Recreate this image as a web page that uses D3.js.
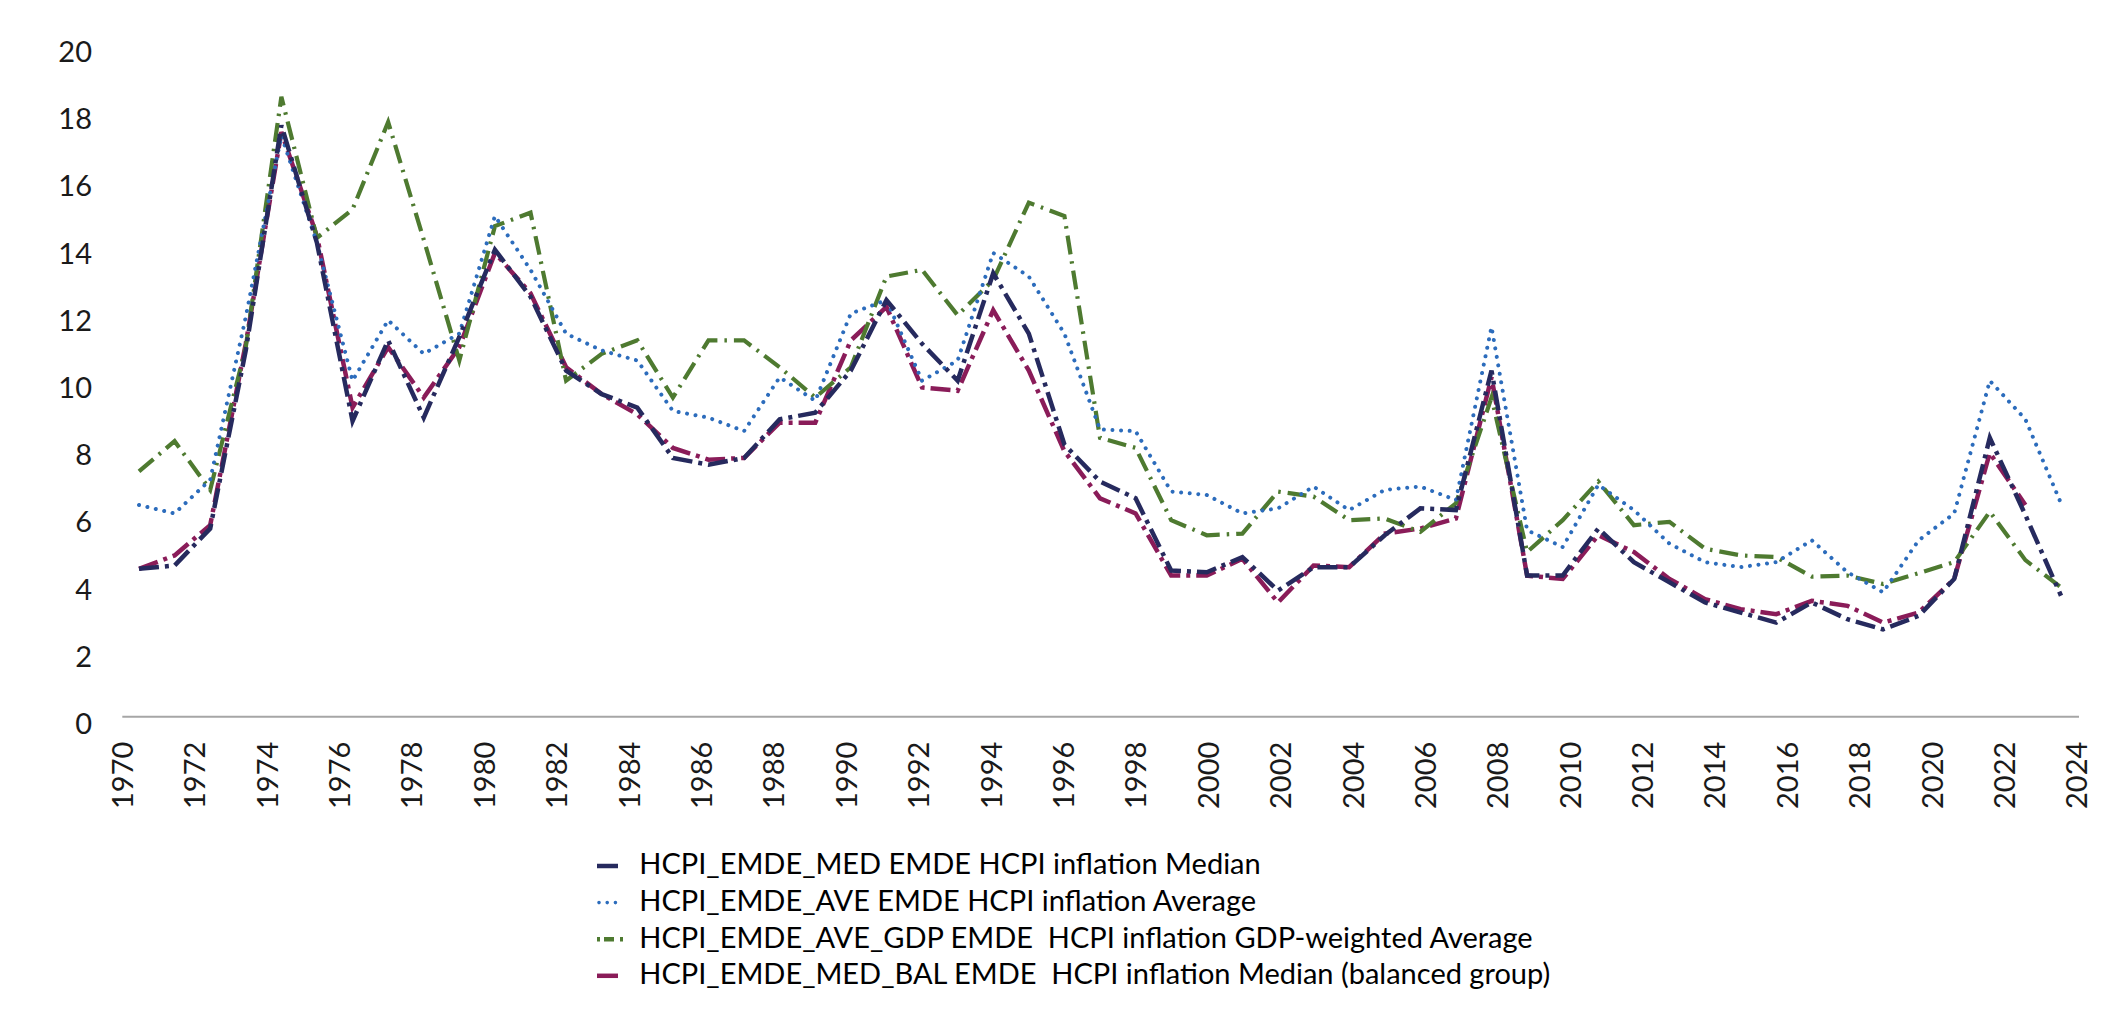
<!DOCTYPE html>
<html>
<head>
<meta charset="utf-8">
<script src="https://cdn.jsdelivr.net/npm/d3@7"></script>
<style>
  html, body { margin: 0; padding: 0; background: #fff; }
  svg { display: block; font-family: Lato, "Open Sans", sans-serif; }
</style>
</head>
<body>
<svg id="chart" width="2126" height="1016"></svg>
<script>
// categories
var years = [1970, 1971, 1972, 1973, 1974, 1975, 1976, 1977, 1978, 1979,
             1980, 1981, 1982, 1983, 1984, 1985, 1986, 1987, 1988, 1989,
             1990, 1991, 1992, 1993, 1994, 1995, 1996, 1997, 1998, 1999,
             2000, 2001, 2002, 2003, 2004, 2005, 2006, 2007, 2008, 2009,
             2010, 2011, 2012, 2013, 2014, 2015, 2016, 2017, 2018, 2019,
             2020, 2021, 2022, 2023, 2024];

// series values
var medianVals = [4.4, 4.5, 5.6, 10.9, 17.6, 14.1, 8.8, 11.2, 8.9, 11.3,
                  13.9, 12.5, 10.3, 9.6, 9.2, 7.7, 7.5, 7.7, 8.85, 9.05,
                  10.3, 12.4, 11.1, 10.0, 13.2, 11.4, 8.1, 7.0, 6.5, 4.35,
                  4.3, 4.75, 3.75, 4.45, 4.45, 5.4, 6.2, 6.15, 10.3, 4.2,
                  4.2, 5.6, 4.6, 4.0, 3.4, 3.1, 2.8, 3.4, 2.9, 2.6,
                  3.0, 4.1, 8.3, 6.0, 3.6];
var averageVals = [6.3, 6.05, 7.05, 11.9, 17.3, 14.1, 10.0, 11.8, 10.8, 11.4,
                   14.9, 13.3, 11.4, 10.9, 10.6, 9.1, 8.9, 8.5, 10.1, 9.4,
                   12.0, 12.4, 10.0, 10.6, 13.8, 13.1, 11.4, 8.55, 8.5, 6.7,
                   6.6, 6.05, 6.2, 6.85, 6.15, 6.75, 6.85, 6.45, 11.6, 5.55,
                   5.05, 6.9, 6.15, 5.15, 4.6, 4.45, 4.6, 5.25, 4.3, 3.7,
                   5.25, 6.05, 10.0, 8.85, 6.35];
var gdpVals = [7.3, 8.2, 6.75, 11.0, 18.45, 14.25, 15.1, 17.7, 14.2, 10.6,
               14.6, 15.0, 10.0, 10.8, 11.2, 9.5, 11.2, 11.2, 10.4, 9.5,
               10.4, 13.1, 13.3, 11.95, 13.0, 15.3, 14.9, 8.3, 8.0, 5.85,
               5.4, 5.45, 6.7, 6.55, 5.85, 5.9, 5.5, 6.35, 9.5, 4.9,
               5.85, 7.0, 5.7, 5.8, 5.0, 4.8, 4.75, 4.17, 4.2, 3.95,
               4.27, 4.6, 6.1, 4.66, 3.85];
var balancedVals = [4.4, 4.8, 5.7, 11.1, 17.4, 14.3, 9.2, 11.0, 9.5, 11.0,
                    13.8, 12.6, 10.4, 9.6, 9.0, 8.0, 7.65, 7.7, 8.75, 8.75,
                    11.2, 12.2, 9.8, 9.7, 12.1, 10.3, 7.9, 6.5, 6.05, 4.2,
                    4.2, 4.7, 3.4, 4.5, 4.45, 5.45, 5.6, 5.9, 10.1, 4.2,
                    4.1, 5.4, 4.9, 4.1, 3.5, 3.2, 3.05, 3.45, 3.3, 2.8,
                    3.1, 4.1, 7.85, 6.3, null];

// tick labels
var yTicks = [0, 2, 4, 6, 8, 10, 12, 14, 16, 18, 20];
var xTicks = [1970, 1972, 1974, 1976, 1978, 1980, 1982, 1984, 1986, 1988,
              1990, 1992, 1994, 1996, 1998, 2000, 2002, 2004, 2006, 2008,
              2010, 2012, 2014, 2016, 2018, 2020, 2022, 2024];

var legendLabels = [
  "HCPI_EMDE_MED EMDE HCPI inflation Median",
  "HCPI_EMDE_AVE EMDE HCPI inflation Average",
  "HCPI_EMDE_AVE_GDP EMDE  HCPI inflation GDP-weighted Average",
  "HCPI_EMDE_MED_BAL EMDE  HCPI inflation Median (balanced group)"
];

var series = [
  { name: legendLabels[0], values: medianVals,   color: "#262a5e", width: 4.5, dash: "20 6 4 6",  cap: "butt",  legendDash: null },
  { name: legendLabels[1], values: averageVals,  color: "#2c6cbc", width: 4,   dash: "0.01 8.6", cap: "round", legendDash: "0.01 8.2" },
  { name: legendLabels[2], values: gdpVals,      color: "#4e7a30", width: 4.2, dash: "19 7 2.5 7", cap: "butt", legendDash: "3 4 10 6 3" },
  { name: legendLabels[3], values: balancedVals, color: "#8a1c59", width: 4.5, dash: "20 6 4 6",  cap: "butt",  legendDash: null }
];

var svg = d3.select("#chart");
var fontSize = 29;

var y = d3.scaleLinear().domain([0, 20]).range([716.7, 44.7]);
// labels sit on a slightly wider span than the plotted points
var xAxisScale = d3.scaleLinear().domain([1970, 2024]).range([122.3, 2076.7]);
var xData = d3.scaleLinear().domain([1970, 2024]).range([139, 2061]);

// y axis labels
var yAxis = svg.append("g")
    .attr("transform", "translate(92,7.5)")
    .call(d3.axisLeft(y).tickValues(yTicks).tickSize(0).tickPadding(0));
yAxis.select(".domain").remove();
yAxis.selectAll("text")
    .attr("fill", "#1a1a1a")
    .style("font-size", fontSize + "px")
    .style("font-family", "Lato, 'Open Sans', sans-serif");

// x axis baseline
svg.append("line")
    .attr("x1", xAxisScale(1970))
    .attr("x2", xAxisScale(2024) + 2.3)
    .attr("y1", y(0))
    .attr("y2", y(0))
    .attr("stroke", "#a6a6a6")
    .attr("stroke-width", 2);

var xAxis = svg.append("g")
    .attr("transform", "translate(0," + y(0) + ")")
    .call(d3.axisBottom(xAxisScale).tickValues(xTicks).tickSize(0).tickFormat(d3.format("d")));
xAxis.select(".domain").remove();
xAxis.selectAll("text")
    .attr("transform", "rotate(-90)")
    .attr("text-anchor", "end")
    .attr("x", -25)
    .attr("y", 0)
    .attr("dy", "0.35em")
    .attr("fill", "#1a1a1a")
    .style("font-size", fontSize + "px")
    .style("font-family", "Lato, 'Open Sans', sans-serif");

// lines: draw balanced first so the median sits on top
var line = d3.line()
    .defined(function(d) { return d.v !== null; })
    .x(function(d) { return xData(d.year); })
    .y(function(d) { return y(d.v); });

var drawOrder = [3, 2, 1, 0];
drawOrder.forEach(function(k) {
  var s = series[k];
  var pts = years.map(function(yr, i) { return { year: yr, v: s.values[i] }; });
  svg.append("path")
      .datum(pts)
      .attr("fill", "none")
      .attr("stroke", s.color)
      .attr("stroke-width", s.width)
      .attr("stroke-dasharray", s.dash)
      .attr("stroke-linecap", s.cap)
      .attr("stroke-linejoin", "miter")
      .attr("d", line);
});

// legend
var legend = svg.append("g").attr("transform", "translate(597,866)");
series.forEach(function(s, i) {
  var row = legend.append("g").attr("transform", "translate(0," + (i * 36.6) + ")");
  var sw = row.append("line")
      .attr("x1", s.cap === "round" ? 2 : 0)
      .attr("x2", s.legendDash && s.cap !== "round" ? 27 : 21)
      .attr("y1", 0).attr("y2", 0)
      .attr("stroke", s.color)
      .attr("stroke-width", s.cap === "round" ? 3.6 : 4.5)
      .attr("stroke-linecap", s.cap);
  if (s.legendDash) sw.attr("stroke-dasharray", s.legendDash);
  row.append("text")
      .attr("x", 42.3)
      .attr("y", 8.3)
      .attr("fill", "#000")
      .style("font-size", fontSize + "px")
      .style("white-space", "pre")
      .text(s.name);
});
</script>
</body>
</html>
